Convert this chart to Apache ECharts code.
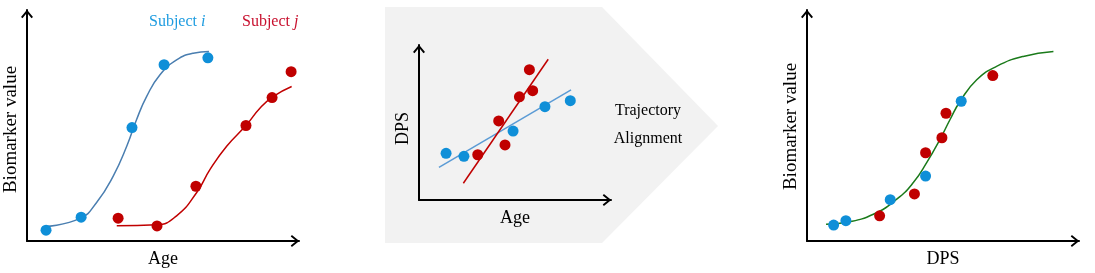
<!DOCTYPE html>
<html>
<head>
<meta charset="utf-8">
<script src="https://cdn.jsdelivr.net/npm/echarts@6/dist/echarts.min.js"></script>
<style>
html,body{margin:0;padding:0;background:#fff;}
#chart{width:1095px;height:273px;}
</style>
</head>
<body>
<div id="chart"></div>
<script>
// ---------- Panel 1: Biomarker value vs Age ----------
const p1BluePoints = [[0.70,0.47],[1.99,1.03],[3.86,4.91],[5.04,7.63],[6.65,7.93]];
const p1RedPoints  = [[3.35,0.99],[4.78,0.65],[6.21,2.37],[8.05,5.00],[9.01,6.21],[9.71,7.33]];
const p1BlueCurve  = [[0.66,0.63],[1.95,0.98],[2.56,1.67],[3.17,2.81],[3.67,4.11],[4.03,5.26],[4.40,6.26],[4.89,7.20],[5.50,7.84],[6.11,8.13],[6.69,8.20]];
const p1RedCurve   = [[3.30,0.66],[4.77,0.70],[5.50,1.09],[6.24,2.10],[6.73,3.10],[7.34,4.10],[8.08,5.04],[8.57,5.76],[9.06,6.26],[9.73,6.69]];

// ---------- Panel 2: DPS vs Age (linear fits) ----------
const p2BluePoints = [[1.41,3.01],[2.34,2.82],[4.90,4.45],[6.56,6.02],[7.88,6.41]];
const p2RedPoints  = [[3.06,2.92],[4.15,5.10],[4.48,3.55],[5.23,6.66],[5.92,7.05],[5.75,8.41]];
const p2BlueLine   = [[1.04,2.11],[7.92,7.10]];
const p2RedLine    = [[2.31,1.08],[6.73,9.08]];

// ---------- Panel 3: Biomarker value vs DPS ----------
const p3BluePoints = [[0.98,0.69],[1.43,0.88],[3.06,1.79],[4.36,2.81],[5.67,6.05]];
const p3RedPoints  = [[2.67,1.09],[3.95,2.04],[4.36,3.82],[4.96,4.47],[5.11,5.53],[6.83,7.16]];
const p3GreenCurve = [[0.70,0.72],[1.46,0.81],[2.44,1.16],[3.30,1.81],[3.91,2.53],[4.40,3.39],[4.89,4.40],[5.26,5.26],[5.63,6.05],[6.24,6.98],[6.97,7.56],[7.95,7.99],[9.06,8.20]];

// ---------- Texts ----------
const axisNames = {p1x:'Age', p1y:'Biomarker value', p2x:'Age', p2y:'DPS', p3x:'DPS', p3y:'Biomarker value'};
const subjectLabels = ['Subject ', 'i', 'j'];
const alignLabels = ['Trajectory', 'Alignment'];

const FONT = 'Liberation Serif';
const BLUE_DOT = '#0f8fd8', RED = '#c00000';
const CHEVRON = 'path://M0,7.4 L6,0 L12,7.4 L10.5,8.6 L6,3 L1.5,8.6 Z';

function xAx(gi, name){
  return {type:'value', gridIndex:gi, min:0, max:10, name:name, nameLocation:'middle', nameGap:9,
    nameTextStyle:{fontFamily:FONT, fontSize:18, color:'#000'},
    axisLine:{show:true, lineStyle:{color:'#000', width:2}, symbol:['none', CHEVRON], symbolSize:[12,9], symbolOffset:[0,-4]},
    axisTick:{show:false}, axisLabel:{show:false}, splitLine:{show:false}};
}
function yAx(gi, name, gap, size, padR){
  return {type:'value', gridIndex:gi, min:0, max:10, name:name, nameLocation:'middle', nameGap:gap, nameRotate:90,
    nameTextStyle:{fontFamily:FONT, fontSize:size, color:'#000', padding:[0,padR,0,0]},
    axisLine:{show:true, lineStyle:{color:'#000', width:2}, symbol:['none', CHEVRON], symbolSize:[12,9], symbolOffset:[0,-4]},
    axisTick:{show:false}, axisLabel:{show:false}, splitLine:{show:false}};
}
function lineS(i, data, color, smooth){
  return {type:'line', xAxisIndex:i, yAxisIndex:i, data:data, smooth:smooth, showSymbol:false, symbol:'none',
    lineStyle:{color:color, width:1.5}, silent:true, z:2};
}
function dots(i, data, color){
  return {type:'scatter', xAxisIndex:i, yAxisIndex:i, data:data, symbolSize:11,
    itemStyle:{color:color, opacity:1}, silent:true, z:3};
}

const chart = echarts.init(document.getElementById('chart'), null, {renderer:'canvas'});
chart.setOption({
  animation:false,
  backgroundColor:'#ffffff',
  grid:[
    {left:27, top:10, width:272, height:232},
    {left:419, top:45, width:192, height:155},
    {left:807, top:10, width:272, height:232}
  ],
  xAxis:[xAx(0, axisNames.p1x), xAx(1, axisNames.p2x), xAx(2, axisNames.p3x)],
  yAxis:[yAx(0, axisNames.p1y, 6, 19, 8), yAx(1, axisNames.p2y, 7, 18, 12), yAx(2, axisNames.p3y, 6, 19, 2)],
  graphic:[
    {type:'polygon', z:-10, silent:true,
      shape:{points:[[385,7],[602,7],[718,126],[602,243],[385,243]]},
      style:{fill:'#f2f2f2'}},
    {type:'text', left:149, top:14, silent:true,
      style:{text:'{a|'+subjectLabels[0]+'}{b|'+subjectLabels[1]+'}',
        rich:{a:{fontFamily:FONT, fontSize:16, fill:'#1e9ce0'}, b:{fontFamily:FONT, fontSize:16, fontStyle:'italic', fill:'#1e9ce0'}}}},
    {type:'text', left:242, top:14, silent:true,
      style:{text:'{a|'+subjectLabels[0]+'}{b|'+subjectLabels[2]+'}',
        rich:{a:{fontFamily:FONT, fontSize:16, fill:'#c8102e'}, b:{fontFamily:FONT, fontSize:16, fontStyle:'italic', fill:'#c8102e'}}}},
    {type:'text', silent:true, x:648, y:111,
      style:{text:alignLabels[0], fontFamily:FONT, fontSize:16, fill:'#000', textAlign:'center', textVerticalAlign:'middle'}},
    {type:'text', silent:true, x:648, y:139,
      style:{text:alignLabels[1], fontFamily:FONT, fontSize:16, fill:'#000', textAlign:'center', textVerticalAlign:'middle'}}
  ],
  series:[
    lineS(0, p1BlueCurve, '#4a7eb0', true),
    lineS(0, p1RedCurve, RED, true),
    dots(0, p1BluePoints, BLUE_DOT),
    dots(0, p1RedPoints, RED),
    lineS(1, p2BlueLine, '#5b9bd5', false),
    lineS(1, p2RedLine, RED, false),
    dots(1, p2BluePoints, BLUE_DOT),
    dots(1, p2RedPoints, RED),
    lineS(2, p3GreenCurve, '#1a7a1a', true),
    dots(2, p3BluePoints, BLUE_DOT),
    dots(2, p3RedPoints, RED)
  ]
});
</script>
</body>
</html>
